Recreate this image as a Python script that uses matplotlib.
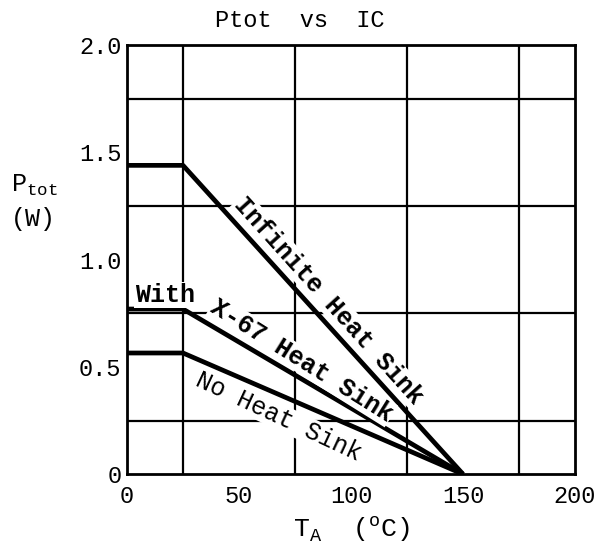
import matplotlib.pyplot as plt

# Derating curves
temps = [0, 25, 150]
p_infinite = [1.44, 1.44, 0.0]
p_x67 = [0.77, 0.77, 0.0]
p_none = [0.565, 0.565, 0.0]

x_ticks = [0, 50, 100, 150, 200]
y_ticks = [0, 0.5, 1.0, 1.5, 2.0]
y_tick_labels = ["0", "0.5", "1.0", "1.5", "2.0"]

plt.rcParams["font.family"] = ["Liberation Mono", "DejaVu Sans Mono"]
plt.rcParams["mathtext.fontset"] = "custom"
plt.rcParams["mathtext.rm"] = "Liberation Mono"

fig = plt.figure(figsize=(5.99, 5.52), dpi=100)
ax = fig.add_axes([0.212, 0.141, 0.748, 0.777])

ax.set_xlim(0, 200)
ax.set_ylim(0, 2.0)

# grid every 25 degC and 0.25 W
ax.set_xticks(range(0, 201, 25), minor=True)
ax.set_yticks([i * 0.25 for i in range(9)], minor=True)
ax.grid(True, which="minor", color="black", linewidth=1.6)
ax.set_xticks(x_ticks)
ax.set_yticks(y_ticks)
ax.set_yticklabels(y_tick_labels)
ax.tick_params(which="both", length=0, labelsize=17)
ax.tick_params(axis="y", pad=4)
ax.tick_params(axis="x", pad=8)
for s in ax.spines.values():
    s.set_linewidth(2)

ax.plot(temps, p_infinite, color="black", linewidth=3.4, solid_capstyle="butt")
ax.plot(temps, p_x67, color="black", linewidth=3.4, solid_capstyle="butt")
ax.plot(temps, p_none, color="black", linewidth=3.4, solid_capstyle="butt")

box = dict(facecolor="white", edgecolor="none", pad=0.5)
ax.text(90, 0.81, "Infinite Heat Sink", rotation=-48, fontsize=18,
        fontweight="bold", ha="center", va="center", rotation_mode="anchor", bbox=box)
ax.text(17, 0.835, "With", fontsize=18, fontweight="bold", ha="center", va="center", bbox=box)
ax.text(78, 0.53, "X-67 Heat Sink", rotation=-32, fontsize=18,
        fontweight="bold", ha="center", va="center", rotation_mode="anchor", bbox=box)
ax.text(67.5, 0.27, "No Heat Sink", rotation=-25, fontsize=18,
        ha="center", va="center", rotation_mode="anchor", bbox=box)

fig.text(0.5, 0.962, "Ptot  vs  IC", fontsize=17, ha="center", va="center")
fig.text(0.018, 0.665, r"P$_{\mathrm{tot}}$", fontsize=18, ha="left", va="center")
fig.text(0.018, 0.603, "(W)", fontsize=18, ha="left", va="center")
ax.set_xlabel(r"T$_\mathrm{A}$  ($^\mathrm{o}$C)", fontsize=19, labelpad=4)

fig.savefig("out.png", dpi=100, facecolor="white")
